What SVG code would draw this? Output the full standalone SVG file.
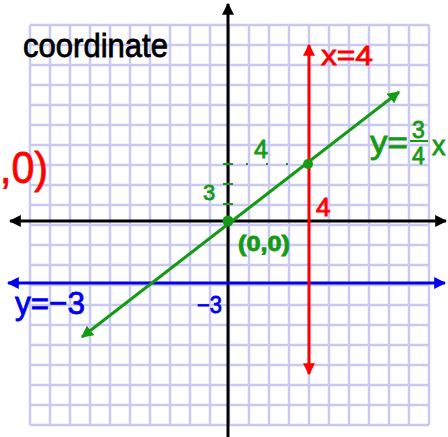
<svg xmlns="http://www.w3.org/2000/svg" width="448" height="437" viewBox="0 0 448 437">
<style>
.grid line{stroke:#c9c9f3;stroke-width:2.5}
.ax{stroke:#000;stroke-width:3;fill:none}
.t{font-family:"Liberation Sans",Arial,sans-serif;stroke-width:0.8}
.red{fill:#ff0000;stroke:#ff0000}
.grn{fill:#159a15;stroke:#159a15}
.blu{fill:#0000ee;stroke:#0000ee}
.blk{fill:#000;stroke:#000}
</style>
<defs>
<marker id="ak" viewBox="0 0 10 10" refX="9" refY="5" markerWidth="4" markerHeight="4" orient="auto-start-reverse"><path d="M0,0L10,5L0,10z" fill="#000"/></marker>
<marker id="ar" viewBox="0 0 10 10" refX="9" refY="5" markerWidth="4" markerHeight="4" orient="auto-start-reverse"><path d="M0,0L10,5L0,10z" fill="#ff0000"/></marker>
<marker id="ab" viewBox="0 0 10 10" refX="9" refY="5" markerWidth="4" markerHeight="4" orient="auto-start-reverse"><path d="M0,0L10,5L0,10z" fill="#0000ee"/></marker>
<marker id="ag" viewBox="0 0 10 10" refX="9" refY="5" markerWidth="4" markerHeight="4" orient="auto-start-reverse"><path d="M0,0L10,5L0,10z" fill="#159a15"/></marker>
</defs>
<rect width="448" height="437" fill="#fff"/>
<g id="grid" class="grid">
<line x1="30" y1="25" x2="30" y2="425"/><line x1="50" y1="25" x2="50" y2="425"/><line x1="70" y1="25" x2="70" y2="425"/><line x1="90" y1="25" x2="90" y2="425"/><line x1="110" y1="25" x2="110" y2="425"/><line x1="130" y1="25" x2="130" y2="425"/><line x1="150" y1="25" x2="150" y2="425"/><line x1="170" y1="25" x2="170" y2="425"/><line x1="190" y1="25" x2="190" y2="425"/><line x1="210" y1="25" x2="210" y2="425"/><line x1="229" y1="25" x2="229" y2="425"/><line x1="249" y1="25" x2="249" y2="425"/><line x1="269" y1="25" x2="269" y2="425"/><line x1="289" y1="25" x2="289" y2="425"/><line x1="309" y1="25" x2="309" y2="425"/><line x1="329" y1="25" x2="329" y2="425"/><line x1="349" y1="25" x2="349" y2="425"/><line x1="369" y1="25" x2="369" y2="425"/><line x1="389" y1="25" x2="389" y2="425"/><line x1="409" y1="25" x2="409" y2="425"/><line x1="429" y1="25" x2="429" y2="425"/>
<line x1="30" y1="25" x2="429" y2="25"/><line x1="30" y1="45" x2="429" y2="45"/><line x1="30" y1="65" x2="429" y2="65"/><line x1="30" y1="85" x2="429" y2="85"/><line x1="30" y1="105" x2="429" y2="105"/><line x1="30" y1="125" x2="429" y2="125"/><line x1="30" y1="145" x2="429" y2="145"/><line x1="30" y1="165" x2="429" y2="165"/><line x1="30" y1="185" x2="429" y2="185"/><line x1="30" y1="205" x2="429" y2="205"/><line x1="30" y1="225" x2="429" y2="225"/><line x1="30" y1="245" x2="429" y2="245"/><line x1="30" y1="265" x2="429" y2="265"/><line x1="30" y1="285" x2="429" y2="285"/><line x1="30" y1="305" x2="429" y2="305"/><line x1="30" y1="325" x2="429" y2="325"/><line x1="30" y1="345" x2="429" y2="345"/><line x1="30" y1="365" x2="429" y2="365"/><line x1="30" y1="385" x2="429" y2="385"/><line x1="30" y1="405" x2="429" y2="405"/><line x1="30" y1="425" x2="429" y2="425"/>
</g>
<g id="connectors">
<line class="ax" x1="10" y1="221" x2="446" y2="221" marker-start="url(#ak)" marker-end="url(#ak)"/>
<line class="ax" x1="228" y1="4" x2="228" y2="437" marker-start="url(#ak)"/>
<line x1="8" y1="283" x2="445" y2="283" stroke="#0000ee" stroke-width="3" marker-start="url(#ab)" marker-end="url(#ab)"/>
<line x1="309" y1="45" x2="309" y2="374" stroke="#ff0000" stroke-width="3" marker-start="url(#ar)" marker-end="url(#ar)"/>
<line x1="82" y1="337" x2="399" y2="92" stroke="#159a15" stroke-width="3" marker-start="url(#ag)" marker-end="url(#ag)"/>
<line x1="226" y1="164" x2="302" y2="164" stroke="#159a15" stroke-width="2" stroke-dasharray="2 18"/>
<g stroke="#159a15" stroke-width="2"><line x1="223" y1="164" x2="233" y2="164"/><line x1="223" y1="184" x2="233" y2="184"/><line x1="223" y1="204" x2="233" y2="204"/></g>
</g>
<g id="origin"><circle cx="228" cy="221" r="5.5" fill="#159a15"/><text class="t grn" x="238" y="251" font-size="22" font-weight="bold" textLength="52" lengthAdjust="spacingAndGlyphs">(0,0)</text></g>
<g id="point"><circle cx="308" cy="164" r="5" fill="#159a15"/></g>
<g id="title"><text class="t blk" x="23" y="57" font-size="34" stroke-width="1.2" textLength="145" lengthAdjust="spacingAndGlyphs">coordinate</text></g>
<g id="red-labels">
<text class="t red" x="321" y="65" font-size="28" textLength="52" lengthAdjust="spacingAndGlyphs">x=4</text>
<text class="t red" x="316" y="216" font-size="26">4</text>
<text class="t red" x="0" y="183" font-size="44" textLength="48" lengthAdjust="spacingAndGlyphs">,0)</text>
</g>
<g id="green-labels">
<text class="t grn" x="254" y="158" font-size="25">4</text>
<text class="t grn" x="203" y="200" font-size="22">3</text>
<text class="t grn" x="370" y="153" font-size="32" textLength="38" lengthAdjust="spacingAndGlyphs">y=</text>
<text class="t grn" x="412" y="138" font-size="23">3</text>
<line x1="410" y1="141" x2="428" y2="141" stroke="#159a15" stroke-width="2"/>
<text class="t grn" x="412" y="164" font-size="23">4</text>
<text class="t grn" x="432" y="155" font-size="27">x</text>
</g>
<g id="blue-labels">
<text class="t blu" x="15" y="314" font-size="32" textLength="70" lengthAdjust="spacingAndGlyphs">y=−3</text>
<text class="t blu" x="197" y="313" font-size="23" textLength="25" lengthAdjust="spacingAndGlyphs">−3</text>
</g>
</svg>
